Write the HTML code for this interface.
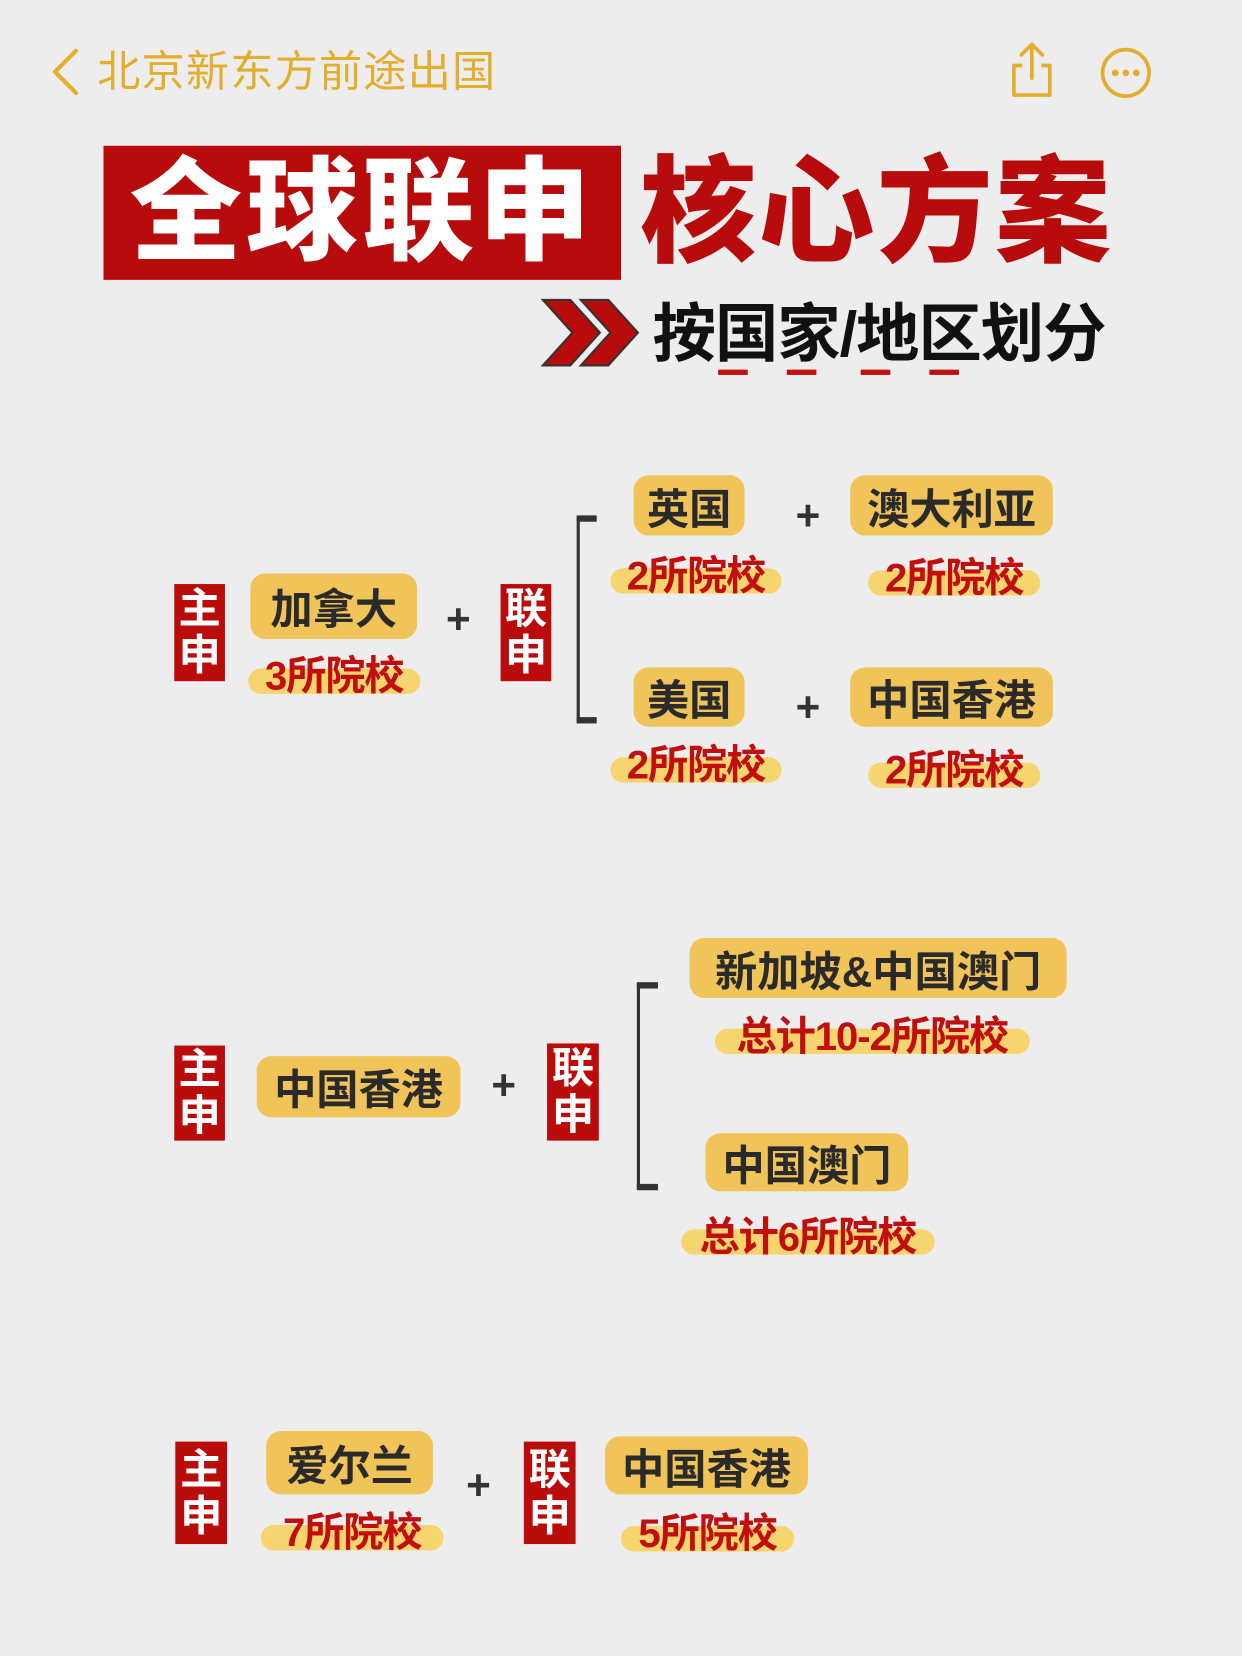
<!DOCTYPE html>
<html><head><meta charset="utf-8">
<style>
html,body{margin:0;padding:0;}
body{width:1242px;height:1656px;overflow:hidden;background:#ececec;}
#w{position:absolute;left:0;top:0;width:1176px;height:1568px;transform:scale(1.0561224);transform-origin:0 0;background:#ededed;font-family:"Liberation Sans","Noto Sans CJK SC",sans-serif;}
.a{position:absolute;}
.pill{position:absolute;background:#f0c458;border-radius:14px;display:flex;align-items:center;justify-content:center;color:#2a2a2a;font-weight:700;font-size:40px;white-space:nowrap;}
.rt{position:absolute;display:flex;align-items:center;justify-content:center;color:#c10f10;font-weight:700;font-size:38px;white-space:nowrap;letter-spacing:-1px;}
.rt::before{content:"";position:absolute;left:0;right:0;bottom:2px;height:52%;background:#f6d46e;border-radius:14px;z-index:-1;}
.rt span{position:relative;}
.tag{position:absolute;background:#bb0c0c;color:#fff;font-weight:700;font-size:40px;line-height:44px;width:48px;text-align:center;display:flex;flex-direction:column;justify-content:center;}
.plus{position:absolute;font-size:40px;font-weight:700;color:#333;width:40px;text-align:center;line-height:40px;}
.br{position:absolute;border-left:3px solid #333;}
.tk{position:absolute;height:6px;background:#333;}
</style></head><body><div id="w">
<svg class="a" style="left:44px;top:44px" width="32" height="48"><polyline points="28,4 8,24 28,44" fill="none" stroke="#e2ae2c" stroke-width="4" stroke-linecap="round" stroke-linejoin="round"/></svg>
<div class="a" style="left:92px;top:44px;font-size:41px;color:#e2ae2c;line-height:48px;letter-spacing:1px;">北京新东方前途出国</div>
<svg class="a" style="left:952px;top:38px" width="50" height="56"><path d="M16 24 H8 V52 H42 V24 H34" fill="none" stroke="#e2ae2c" stroke-width="3.5" stroke-linejoin="round"/><path d="M25 36 V4 M15 14 L25 4 L35 14" fill="none" stroke="#e2ae2c" stroke-width="3.5" stroke-linecap="round" stroke-linejoin="round"/></svg>
<svg class="a" style="left:1040px;top:43px" width="52" height="52"><circle cx="26" cy="26" r="22" fill="none" stroke="#e2ae2c" stroke-width="3.5"/><circle cx="16" cy="26" r="3.2" fill="#e2ae2c"/><circle cx="26" cy="26" r="3.2" fill="#e2ae2c"/><circle cx="36" cy="26" r="3.2" fill="#e2ae2c"/></svg>

<div class="a" style="left:98px;top:138px;width:490px;height:127px;background:#b80c0c;"></div>
<div class="a" style="left:98px;top:138px;width:490px;height:127px;color:#fff;font-size:106px;font-weight:900;line-height:127px;text-align:center;letter-spacing:4px;">全球联申</div>
<div class="a" style="left:600px;top:138px;width:460px;height:127px;color:#b80c0c;font-size:110px;font-weight:900;line-height:127px;text-align:center;letter-spacing:2px;">核心方案</div>

<svg class="a" style="left:512px;top:282px" width="96" height="66"><polygon points="2,2 28,2 56,33 28,64 2,64 30,33" fill="#b80c0c" stroke="#333" stroke-width="2"/><polygon points="38,2 64,2 92,33 64,64 38,64 66,33" fill="#b80c0c" stroke="#333" stroke-width="2"/></svg>
<div class="a" style="left:618px;top:282px;font-size:60px;font-weight:700;color:#111;line-height:70px;letter-spacing:-1px;">按国家/地区划分</div>
<div class="a" style="left:680px;top:350px;width:28px;height:5px;background:#c10f10;"></div>
<div class="a" style="left:745px;top:350px;width:28px;height:5px;background:#c10f10;"></div>
<div class="a" style="left:815px;top:350px;width:28px;height:5px;background:#c10f10;"></div>
<div class="a" style="left:880px;top:350px;width:28px;height:5px;background:#c10f10;"></div>

<!-- section 1 -->
<div class="tag" style="left:165px;top:553px;height:92px;">主<br>申</div>
<div class="pill" style="left:237px;top:543px;width:158px;height:62px;">加拿大</div>
<div class="rt" style="left:235px;top:613px;width:163px;height:46px;"><span>3所院校</span></div>
<div class="plus" style="left:414px;top:567px;">+</div>
<div class="tag" style="left:474px;top:553px;height:92px;">联<br>申</div>
<div class="br" style="left:546px;top:490px;height:193px;"></div>
<div class="tk" style="left:546px;top:488px;width:19px;"></div>
<div class="tk" style="left:546px;top:679px;width:19px;"></div>
<div class="pill" style="left:600px;top:450px;width:105px;height:57px;">英国</div>
<div class="rt" style="left:578px;top:518px;width:162px;height:46px;"><span>2所院校</span></div>
<div class="plus" style="left:745px;top:469px;">+</div>
<div class="pill" style="left:805px;top:450px;width:192px;height:57px;">澳大利亚</div>
<div class="rt" style="left:822px;top:520px;width:163px;height:46px;"><span>2所院校</span></div>
<div class="pill" style="left:600px;top:632px;width:105px;height:56px;">美国</div>
<div class="rt" style="left:578px;top:697px;width:162px;height:46px;"><span>2所院校</span></div>
<div class="plus" style="left:745px;top:650px;">+</div>
<div class="pill" style="left:805px;top:632px;width:192px;height:56px;">中国香港</div>
<div class="rt" style="left:822px;top:702px;width:163px;height:46px;"><span>2所院校</span></div>

<!-- section 2 -->
<div class="tag" style="left:165px;top:990px;height:90px;">主<br>申</div>
<div class="pill" style="left:243px;top:1000px;width:193px;height:58px;">中国香港</div>
<div class="plus" style="left:457px;top:1008px;">+</div>
<div class="tag" style="left:518px;top:988px;height:92px;width:49px;">联<br>申</div>
<div class="br" style="left:603px;top:932px;height:193px;"></div>
<div class="tk" style="left:603px;top:930px;width:20px;"></div>
<div class="tk" style="left:603px;top:1121px;width:20px;"></div>
<div class="pill" style="left:653px;top:888px;width:357px;height:57px;">新加坡&amp;中国澳门</div>
<div class="rt" style="left:677px;top:954px;width:298px;height:46px;"><span>总计10-2所院校</span></div>
<div class="pill" style="left:668px;top:1073px;width:192px;height:55px;">中国澳门</div>
<div class="rt" style="left:645px;top:1144px;width:240px;height:46px;"><span>总计6所院校</span></div>

<!-- section 3 -->
<div class="tag" style="left:166px;top:1365px;height:97px;width:49px;">主<br>申</div>
<div class="pill" style="left:252px;top:1355px;width:158px;height:60px;">爱尔兰</div>
<div class="rt" style="left:247px;top:1424px;width:173px;height:46px;"><span>7所院校</span></div>
<div class="plus" style="left:433px;top:1387px;">+</div>
<div class="tag" style="left:496px;top:1365px;height:97px;width:49px;">联<br>申</div>
<div class="pill" style="left:573px;top:1360px;width:192px;height:55px;">中国香港</div>
<div class="rt" style="left:588px;top:1425px;width:164px;height:46px;"><span>5所院校</span></div>
</div></body></html>
